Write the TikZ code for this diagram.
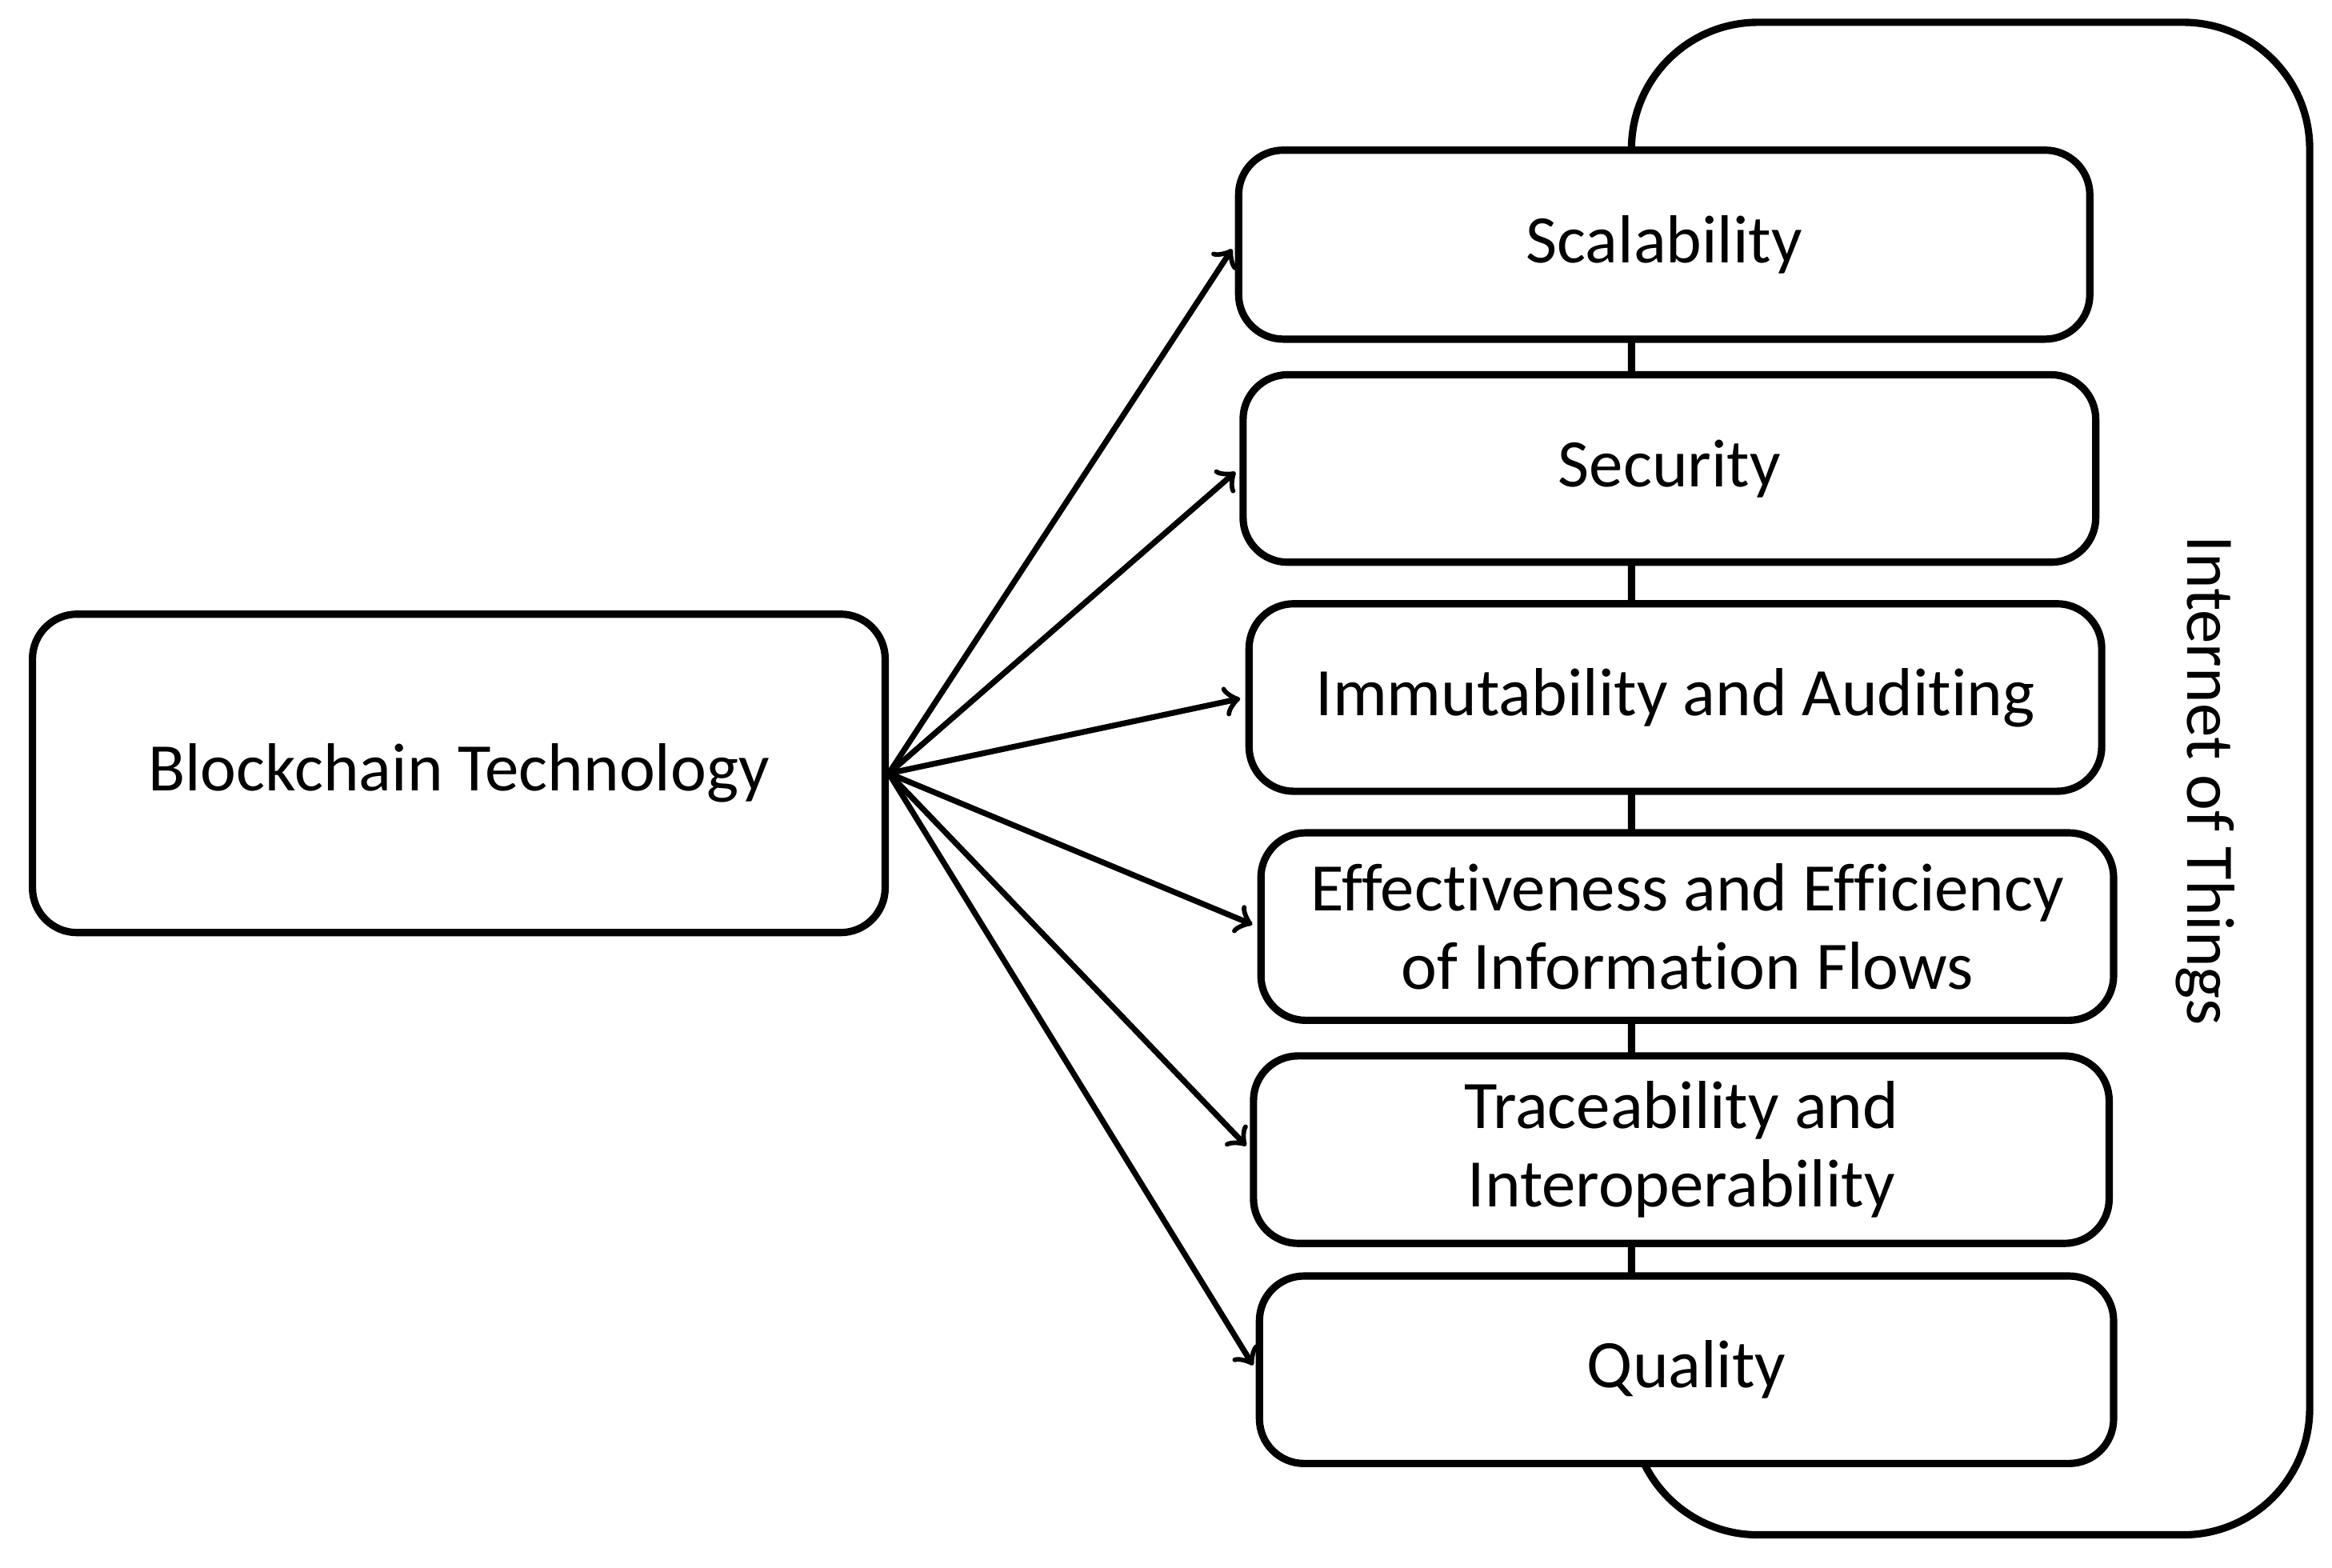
\documentclass[tikz,border=0pt]{standalone}
\usepackage{fontspec}
\setmainfont{Carlito}[Ligatures=NoCommon]
\usetikzlibrary{arrows}

\begin{document}
\begin{tikzpicture}[x=0.01cm,y=-0.01cm,line width=1.4pt]
\tikzstyle{box} = [draw,fill=white,rounded corners=0.3cm,align=center,font=\fontsize{13}{15}\selectfont,inner sep=0pt]
\tikzstyle{link} = [->,line width=1.1pt,shorten >=1pt]
\useasboundingbox (0,0) rectangle (1568,1054);

%%%%%% Internet of Things
\draw[rounded corners=0.85cm] (1097,15) rectangle (1553,1032);
\node[rotate=-90,font=\fontsize{13}{15}\selectfont] (iot) at (1483,525) {Internet of Things};

%%%%%% Blockchain
\node[box,minimum width=5.73cm,minimum height=2.14cm] (bc) at (308.5,520) {Blockchain Technology};

%%%%%% Linhas
\node[box,minimum width=5.72cm,minimum height=1.27cm] (scal) at (1119,164.5) {Scalability};
\node[box,minimum width=5.73cm,minimum height=1.26cm] (sec) at (1122.5,315) {Security};
\node[box,minimum width=5.73cm,minimum height=1.26cm] (imm) at (1126.5,469) {Immutability and Auditing};
\node[box,minimum width=5.73cm,minimum height=1.26cm] (eff) at (1134.5,623) {Effectiveness and Efficiency\\of Information Flows};
\node[box,minimum width=5.75cm,minimum height=1.26cm] (trac) at (1130.5,773) {Traceability and\\Interoperability};
\node[box,minimum width=5.74cm,minimum height=1.26cm] (qual) at (1134,921) {Quality};

%%%%%% Setas
\draw[link] (bc.east) -- (scal.west);
\draw[link] (bc.east) -- (sec.west);
\draw[link] (bc.east) -- (imm.west);
\draw[link] (bc.east) -- (eff.west);
\draw[link] (bc.east) -- (trac.west);
\draw[link] (bc.east) -- (qual.west);
\end{tikzpicture}
\end{document}
